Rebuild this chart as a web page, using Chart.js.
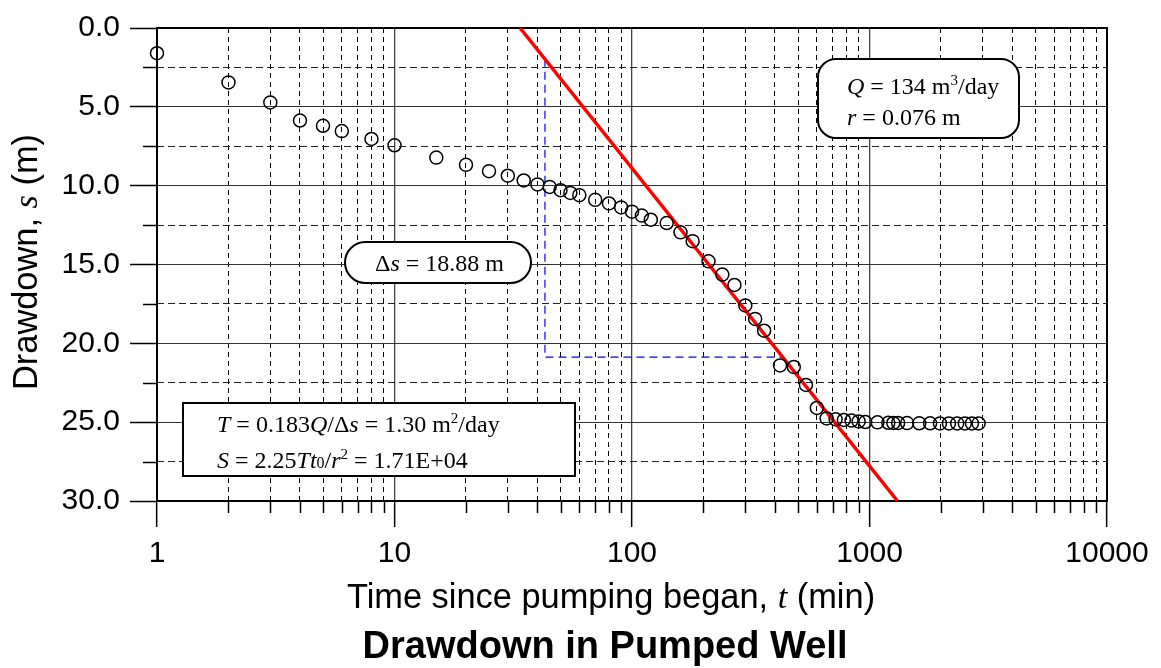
<!DOCTYPE html>
<html>
<head>
<meta charset="utf-8">
<script src="https://cdn.jsdelivr.net/npm/chart.js@4.4.1/dist/chart.umd.min.js"></script>
<style>
    body { margin: 0; background: #fff; }
    #wrap { width: 1161px; height: 668px; position: relative; }
</style>
</head>
<body>
<div id="wrap"><canvas id="myChart"></canvas></div>
<script>
// observed drawdown in the pumped well (min, m)
const times = [1, 2, 3, 4, 5, 6, 8, 10, 15, 20, 25, 30, 35, 40, 45, 50, 55, 60, 70, 80, 90,
    100, 110, 120, 140, 160, 180, 210, 240, 270, 300, 330, 360, 420, 480, 540, 600, 660,
    720, 780, 840, 900, 960, 1080, 1200, 1260, 1320, 1440, 1620, 1800, 1980, 2160, 2340,
    2520, 2700, 2880];
const drawdowns = [1.6, 3.45, 4.72, 5.87, 6.2, 6.54, 7.04, 7.44, 8.22, 8.68, 9.08, 9.37, 9.67,
    9.92, 10.08, 10.29, 10.46, 10.6, 10.9, 11.13, 11.38, 11.65, 11.9, 12.16, 12.37, 12.96,
    13.52, 14.8, 15.64, 16.3, 17.6, 18.45, 19.2, 21.4, 21.5, 22.64, 24.1, 24.76, 24.82,
    24.86, 24.9, 24.95, 24.99, 25.01, 25.04, 25.05, 25.05, 25.06, 25.07, 25.07, 25.08,
    25.08, 25.08, 25.08, 25.08, 25.08];

// straight line fit and the delta-s construction
const fitTimes = [33.8, 1312];
const fitDrawdowns = [0, 30];
const deltaTimes = [43, 43, 433];
const deltaDrawdowns = [1.95, 20.88, 20.88];

// axis ticks
const xDecades = [1, 10, 100, 1000, 10000];
const yMajorTicks = [0, 5, 10, 15, 20, 25, 30];

const SANS = '"Liberation Sans", Arial, sans-serif';
const SERIF = '"Liberation Serif", "Times New Roman", serif';

let xTickValues = [];
xDecades.slice(0, -1).forEach(d => {
    for (let m = 1; m <= 9; m++) xTickValues.push(d * m);
});
xTickValues.push(xDecades[xDecades.length - 1]);
let yTickValues = [];
for (let v = 0; v <= 30; v += 2.5) yTickValues.push(v);

const isDecade = v => xDecades.includes(v);
const isYMajor = v => yMajorTicks.includes(v);

function toPoints(xs, ys) {
    return xs.map((x, i) => ({x: x, y: ys[i]}));
}

// text helpers for the mixed font labels
const R = (t, size) => ({text: t, font: (size || 24) + 'px ' + SERIF});
const I = (t, size) => ({text: t, font: 'italic ' + (size || 24) + 'px ' + SERIF});
const SUP = t => ({text: t, font: '15px ' + SERIF, dy: -9});
const SANSTXT = (t, size, bold) => ({text: t, font: (bold ? 'bold ' : '') + size + 'px ' + SANS});

function drawRich(ctx, x, y, parts, center) {
    let w = 0;
    parts.forEach(p => { ctx.font = p.font; w += ctx.measureText(p.text).width; });
    let cx = center ? x - w / 2 : x;
    parts.forEach(p => {
        ctx.font = p.font;
        ctx.fillText(p.text, cx, y + (p.dy || 0));
        cx += ctx.measureText(p.text).width;
    });
}

function box(ctx, x, y, w, h, r) {
    ctx.beginPath();
    ctx.roundRect(x, y, w, h, r);
    ctx.fillStyle = '#fff';
    ctx.fill();
    ctx.lineWidth = 2;
    ctx.strokeStyle = '#000';
    ctx.stroke();
}

const extras = {
    id: 'extras',
    beforeDatasetsDraw(chart) {
        const {ctx, chartArea: a} = chart;
        ctx.save();
        ctx.strokeStyle = '#000';
        ctx.lineWidth = 2;
        ctx.strokeRect(a.left, a.top, a.right - a.left, a.bottom - a.top);
        // short minor tick marks
        ctx.lineWidth = 1.5;
        ctx.beginPath();
        xTickValues.filter(v => !isDecade(v)).forEach(v => {
            const px = Math.round(chart.scales.x.getPixelForValue(v)) + 0.5;
            ctx.moveTo(px, a.bottom);
            ctx.lineTo(px, a.bottom + 12);
        });
        yTickValues.filter(v => !isYMajor(v)).forEach(v => {
            const py = Math.round(chart.scales.y.getPixelForValue(v)) + 0.5;
            ctx.moveTo(a.left - 14, py);
            ctx.lineTo(a.left, py);
        });
        ctx.stroke();
        ctx.restore();
    },
    afterDatasetsDraw(chart) {
        const ctx = chart.ctx;
        ctx.save();
        ctx.textBaseline = 'alphabetic';

        box(ctx, 818, 59, 201, 79, 18);
        box(ctx, 345, 242, 186, 41, 20.5);
        box(ctx, 183, 403, 392, 73, 0);

        ctx.fillStyle = '#000';
        drawRich(ctx, 847, 94, [I('Q'), R(' = 134 m'), SUP('3'), R('/day')]);
        drawRich(ctx, 847, 125, [I('r'), R(' = 0.076 m')]);
        drawRich(ctx, 375, 271, [R('\u0394'), I('s'), R(' = 18.88 m')]);
        drawRich(ctx, 217, 432, [I('T'), R(' = 0.183'), I('Q'), R('/\u0394'), I('s'),
            R(' = 1.30 m'), SUP('2'), R('/day')]);
        drawRich(ctx, 217, 468, [I('S'), R(' = 2.25'), I('Tt'), R('0', 16), R('/'), I('r'),
            SUP('2'), R(' = 1.71E+04')]);
        ctx.restore();
    },
    afterDraw(chart) {
        const ctx = chart.ctx;
        ctx.save();
        ctx.fillStyle = '#000';
        ctx.textBaseline = 'alphabetic';
        drawRich(ctx, 611, 608, [SANSTXT('Time since pumping began, ', 34.4), I('t', 34.4),
            SANSTXT(' (min)', 34.4)], true);
        drawRich(ctx, 605, 658, [SANSTXT('Drawdown in Pumped Well', 38, true)], true);
        ctx.translate(37, 262);
        ctx.rotate(-Math.PI / 2);
        drawRich(ctx, 0, 0, [SANSTXT('Drawdown, ', 34.4), I('s', 34.4), SANSTXT(' (m)', 34.4)], true);
        ctx.restore();
    }
};

function draw_chart() {
    const ctx = document.getElementById('myChart');
    new Chart(ctx, {
        type: 'scatter',
        data: {
            datasets: [{
                label: 'Observed drawdown',
                data: toPoints(times, drawdowns),
                pointStyle: 'circle',
                pointRadius: 6.5,
                pointBorderWidth: 1.5,
                borderColor: '#000',
                backgroundColor: 'rgba(0,0,0,0)',
                clip: false,
                order: 1
            }, {
                label: 'Fit',
                data: toPoints(fitTimes, fitDrawdowns),
                showLine: true,
                borderColor: '#ff0000',
                borderWidth: 3.5,
                pointRadius: 0,
                order: 2
            }, {
                label: 'Delta s',
                data: toPoints(deltaTimes, deltaDrawdowns),
                showLine: true,
                borderColor: '#0000ff',
                borderWidth: 1.2,
                borderDash: [8, 5],
                pointRadius: 0,
                order: 3
            }]
        },
        options: {
            responsive: true,
            maintainAspectRatio: false,
            animation: false,
            events: [],
            layout: {
                padding: {left: 0, right: 54, top: 24, bottom: 0}
            },
            plugins: {
                legend: {display: false},
                tooltip: {enabled: false}
            },
            scales: {
                x: {
                    type: 'logarithmic',
                    min: 1,
                    max: 10000,
                    afterBuildTicks: s => { s.ticks = xTickValues.map(v => ({value: v})); },
                    afterFit: s => { s.height = 167; },
                    ticks: {
                        autoSkip: false,
                        maxRotation: 0,
                        minRotation: 0,
                        padding: 9,
                        color: '#000',
                        font: {family: SANS, size: 30},
                        callback: v => isDecade(v) ? String(v) : ''
                    },
                    grid: {
                        color: c => (c.tick && isDecade(c.tick.value)) ? '#444' : '#000',
                        lineWidth: c => (c.tick && isDecade(c.tick.value)) ? 1.3 : 1,
                        tickLength: 26,
                        tickWidth: 1.5,
                        tickColor: c => (c.tick && isDecade(c.tick.value)) ? '#000' : 'rgba(0,0,0,0)'
                    },
                    border: {
                        display: false,
                        dash: c => (c.tick && !isDecade(c.tick.value)) ? [5, 4] : []
                    }
                },
                y: {
                    type: 'linear',
                    reverse: true,
                    min: 0,
                    max: 30,
                    afterBuildTicks: s => { s.ticks = yTickValues.map(v => ({value: v})); },
                    afterFit: s => { s.width = 157; },
                    ticks: {
                        autoSkip: false,
                        padding: 10,
                        color: '#000',
                        font: {family: SANS, size: 30},
                        callback: v => isYMajor(v) ? v.toFixed(1) : ''
                    },
                    grid: {
                        color: c => (c.tick && isYMajor(c.tick.value)) ? '#333' : '#222',
                        lineWidth: 1,
                        tickLength: 27,
                        tickWidth: 1.5,
                        tickColor: c => (c.tick && isYMajor(c.tick.value)) ? '#000' : 'rgba(0,0,0,0)'
                    },
                    border: {
                        display: false,
                        dash: c => (c.tick && !isYMajor(c.tick.value)) ? [7, 4] : []
                    }
                }
            }
        },
        plugins: [extras]
    });
}

draw_chart();
</script>
</body>
</html>
